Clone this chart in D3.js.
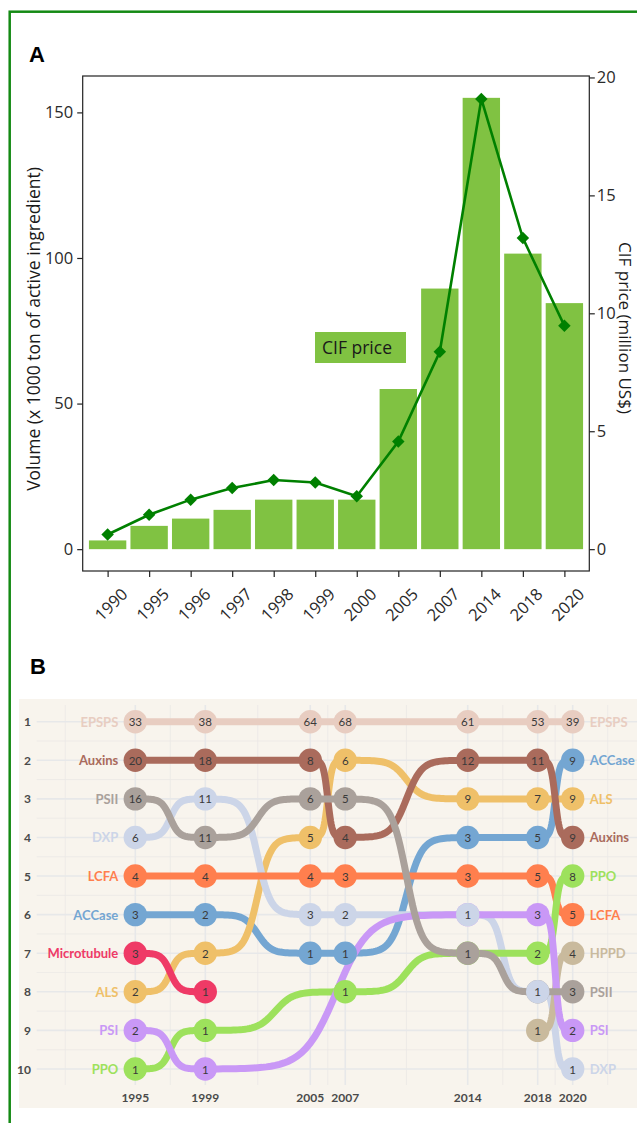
<!DOCTYPE html>
<html>
<head>
<meta charset="utf-8">
<script src="https://cdn.jsdelivr.net/npm/d3@7"></script>
<style>
  body { margin: 0; background: #fff; }
  svg { display: block; }
</style>
</head>
<body>
<svg id="chart" width="637" height="1123"></svg>
<script>
// ---- panel A data ----
const years = ['1990', '1995', '1996', '1997', '1998', '1999', '2000', '2005', '2007', '2014', '2018', '2020'];
const volume = [3, 8, 10.5, 13.5, 17, 17, 17, 55, 89.5, 155, 101.5, 84.5];
const cifPrice = [0.62, 1.46, 2.1, 2.59, 2.93, 2.83, 2.24, 4.56, 8.37, 19.09, 13.19, 9.47];
const volumeTicks = [0, 50, 100, 150];
const priceTicks = [0, 5, 10, 15, 20];

// ---- panel B data (rank / number of active ingredients per mode of action) ----
const bumpYears = [1995, 1999, 2005, 2007, 2014, 2018, 2020];
const rankTicks = [1, 2, 3, 4, 5, 6, 7, 8, 9, 10];
const moaNames = ['ACCase', 'ALS', 'Auxins', 'DXP', 'EPSPS', 'HPPD', 'LCFA', 'Microtubule', 'PPO', 'PSI', 'PSII'];
const moaColors = ['#74a6d2', '#efc069', '#aa6b5c', '#ccd5e8', '#e8cdc1', '#c9ba9d', '#ff7f4e', '#ef3a66', '#9de15c', '#c998f6', '#aaa19b'];
const moaRanks = [
  [6, 6, 7, 7, 4, 4, 2],
  [8, 7, 4, 2, 3, 3, 3],
  [2, 2, 2, 4, 2, 2, 4],
  [4, 3, 6, 6, 6, 8, 10],
  [1, 1, 1, 1, 1, 1, 1],
  [null, null, null, null, null, 9, 7],
  [5, 5, 5, 5, 5, 5, 6],
  [7, 8, null, null, null, null, null],
  [10, 9, null, 8, 7, 7, 5],
  [9, 10, null, null, 6, 6, 9],
  [3, 4, 3, 3, 7, 8, 8]
];
const moaCounts = [
  [3, 2, 1, 1, 3, 5, 9],
  [2, 2, 5, 6, 9, 7, 9],
  [20, 18, 8, 4, 12, 11, 9],
  [6, 11, 3, 2, 1, 1, 1],
  [33, 38, 64, 68, 61, 53, 39],
  [null, null, null, null, null, 1, 4],
  [4, 4, 4, 3, 3, 5, 5],
  [3, 1, null, null, null, null, null],
  [1, 1, null, 1, 1, 2, 8],
  [2, 1, null, null, 1, 3, 2],
  [16, 11, 6, 5, 1, 1, 3]
];
// DXP points sit on top of the tied ones
const pointOrder = ['ACCase', 'ALS', 'Auxins', 'EPSPS', 'HPPD', 'LCFA', 'Microtubule', 'PPO', 'PSI', 'PSII', 'DXP'];

const svg = d3.select('#chart');
const barGreen = '#80c242';
const lineGreen = '#008000';
const fontA = '"Open Sans", Roboto, sans-serif';
const fontB = 'Lato, "Noto Sans", sans-serif';

// outer green frame
svg.append('rect')
  .attr('x', 9.7).attr('y', 11.7)
  .attr('width', 700).attr('height', 1200)
  .attr('fill', 'none').attr('stroke', '#148a14').attr('stroke-width', 2.5);

// ================= PANEL A =================
const pa = { left: 82.7, right: 589.3, top: 76, bottom: 571 };

const x = d3.scalePoint().domain(years).range([pa.left, pa.right]).padding(0.6);
const yVol = d3.scaleLinear().domain([-7.5, 162.5]).range([pa.bottom, pa.top]);
const yPrice = d3.scaleLinear().domain([-7.5 / 8.1, 162.5 / 8.1]).range([pa.bottom, pa.top]);
const barW = x.step() * 0.9;

svg.append('text').attr('x', 29).attr('y', 62)
  .attr('font-family', 'Liberation Sans, Arial, sans-serif').attr('font-weight', 'bold')
  .attr('font-size', 22).text('A');

svg.append('g').selectAll('rect')
  .data(years)
  .join('rect')
  .attr('x', d => x(d) - barW / 2)
  .attr('y', (d, i) => yVol(volume[i]))
  .attr('width', barW)
  .attr('height', (d, i) => yVol(0) - yVol(volume[i]))
  .attr('fill', barGreen);

const priceLine = d3.line()
  .x(d => x(d))
  .y((d, i) => yPrice(cifPrice[i]));

svg.append('path')
  .datum(years)
  .attr('d', priceLine)
  .attr('fill', 'none')
  .attr('stroke', lineGreen)
  .attr('stroke-width', 2.6);

const diamond = d3.symbol().type(d3.symbolSquare).size(78);
svg.append('g').selectAll('path')
  .data(years)
  .join('path')
  .attr('d', diamond)
  .attr('transform', (d, i) => `translate(${x(d)},${yPrice(cifPrice[i])}) rotate(45)`)
  .attr('fill', lineGreen);

// legend label
svg.append('rect').attr('x', 315).attr('y', 332).attr('width', 91).attr('height', 31).attr('fill', barGreen);
svg.append('text').attr('x', 322).attr('y', 354)
  .attr('font-family', fontA).attr('font-size', 17.5).attr('fill', '#1a1a1a').text('CIF price');

// panel frame
svg.append('rect')
  .attr('x', pa.left).attr('y', pa.top)
  .attr('width', pa.right - pa.left).attr('height', pa.bottom - pa.top)
  .attr('fill', 'none').attr('stroke', '#222').attr('stroke-width', 1.2);

function styleAxis(g) {
  g.select('.domain').remove();
  g.selectAll('line').attr('stroke', '#222').attr('stroke-width', 1.2);
  g.selectAll('text').attr('font-family', fontA)
    .attr('font-size', 16.5).attr('fill', '#2a2a2a');
}

svg.append('g')
  .attr('transform', `translate(${pa.left},0)`)
  .call(d3.axisLeft(yVol).tickValues(volumeTicks).tickSize(5.5).tickPadding(4))
  .call(styleAxis);

svg.append('g')
  .attr('transform', `translate(${pa.right},0)`)
  .call(d3.axisRight(yPrice).tickValues(priceTicks).tickSize(5.5).tickPadding(2))
  .call(styleAxis);

svg.append('g')
  .attr('transform', `translate(0,${pa.bottom})`)
  .call(d3.axisBottom(x).tickSize(6))
  .call(styleAxis)
  .selectAll('text')
  .attr('y', null).attr('dy', null)
  .attr('text-anchor', 'middle')
  .attr('dominant-baseline', 'central')
  .attr('transform', 'translate(2.5,33) rotate(-45)');

svg.append('text')
  .attr('transform', 'translate(33,329) rotate(-90)')
  .attr('text-anchor', 'middle').attr('dominant-baseline', 'central')
  .attr('font-family', fontA).attr('font-size', 17.5).attr('fill', '#1a1a1a')
  .text('Volume (x 1000 ton of active ingredient)');

svg.append('text')
  .attr('transform', 'translate(625,328) rotate(90)')
  .attr('text-anchor', 'middle').attr('dominant-baseline', 'central')
  .attr('font-family', fontA).attr('font-size', 17).attr('fill', '#1a1a1a')
  .text('CIF price (million US$)');

// ================= PANEL B =================
svg.append('text').attr('x', 30).attr('y', 674)
  .attr('font-family', 'Liberation Sans, Arial, sans-serif').attr('font-weight', 'bold')
  .attr('font-size', 22).text('B');

svg.append('rect').attr('x', 19).attr('y', 699).attr('width', 620).attr('height', 409).attr('fill', '#f8f4ed');

const xB = d3.scaleLinear().domain([1995, 2020]).range([135.3, 572.7]);
const yB = d3.scaleLinear().domain([1, 10]).range([721.7, 1069]);

// grid: major at the breaks, minor in between
const minorYears = [1991, 1997, 2002, 2006, 2010.5, 2016, 2019, 2022];
const grid = svg.append('g');
grid.selectAll('.hmin')
  .data(d3.range(1.5, 10, 1))
  .join('line')
  .attr('x1', 36.7).attr('x2', 637)
  .attr('y1', d => yB(d)).attr('y2', d => yB(d))
  .attr('stroke', '#ebe9e6').attr('stroke-width', 0.8);
grid.selectAll('.vmin')
  .data(minorYears)
  .join('line')
  .attr('x1', d => xB(d)).attr('x2', d => xB(d))
  .attr('y1', 705).attr('y2', 1085)
  .attr('stroke', '#ebe9e6').attr('stroke-width', 0.8);
grid.selectAll('.hmaj')
  .data(rankTicks)
  .join('line')
  .attr('x1', 36.7).attr('x2', 637)
  .attr('y1', d => yB(d)).attr('y2', d => yB(d))
  .attr('stroke', '#e7e8e9').attr('stroke-width', 1.6);
grid.selectAll('.vmaj')
  .data(bumpYears)
  .join('line')
  .attr('x1', d => xB(d)).attr('x2', d => xB(d))
  .attr('y1', 705).attr('y2', 1085)
  .attr('stroke', '#e7e8e9').attr('stroke-width', 1.6);

// axis labels
svg.append('g').selectAll('text')
  .data(rankTicks)
  .join('text')
  .attr('x', 31).attr('y', d => yB(d))
  .attr('text-anchor', 'end').attr('dominant-baseline', 'central')
  .attr('font-family', fontB).attr('font-weight', 'bold').attr('font-size', 12).attr('fill', '#4a4a4a')
  .text(d => d);

svg.append('g').selectAll('text')
  .data(bumpYears)
  .join('text')
  .attr('x', d => xB(d)).attr('y', 1097)
  .attr('text-anchor', 'middle').attr('dominant-baseline', 'central')
  .attr('font-family', fontB).attr('font-weight', 'bold').attr('font-size', 12).attr('fill', '#4a4a4a')
  .text(d => d);

// sigmoid link between successive points (like ggbump, smooth = 8)
function curveSigmoid(context) {
  let x0, y0, started;
  return {
    areaStart() {}, areaEnd() {},
    lineStart() { started = false; },
    lineEnd() {},
    point(px, py) {
      px = +px; py = +py;
      if (!started) { context.moveTo(px, py); started = true; }
      else {
        const n = 60;
        for (let k = 1; k <= n; k++) {
          const s = 1 / (1 + Math.exp(-(-8 + 16 * k / n)));
          context.lineTo(x0 + (px - x0) * k / n, y0 + (py - y0) * s);
        }
      }
      x0 = px; y0 = py;
    }
  };
}

function seriesPoints(i) {
  return bumpYears
    .map((yr, j) => ({ year: yr, rank: moaRanks[i][j], count: moaCounts[i][j] }))
    .filter(d => d.rank != null);
}

const bump = d3.line().x(d => xB(d.year)).y(d => yB(d.rank)).curve(curveSigmoid);

svg.append('g').selectAll('path')
  .data(moaNames)
  .join('path')
  .attr('d', (d, i) => bump(seriesPoints(i)))
  .attr('fill', 'none')
  .attr('stroke', (d, i) => moaColors[i])
  .attr('stroke-width', 7);

const nodes = svg.append('g');
pointOrder.forEach(name => {
  const i = moaNames.indexOf(name);
  const g = nodes.append('g');
  const pts = seriesPoints(i);
  g.selectAll('circle')
    .data(pts)
    .join('circle')
    .attr('cx', d => xB(d.year)).attr('cy', d => yB(d.rank))
    .attr('r', 11.7)
    .attr('fill', moaColors[i]);
  g.selectAll('text')
    .data(pts)
    .join('text')
    .attr('x', d => xB(d.year)).attr('y', d => yB(d.rank))
    .attr('text-anchor', 'middle').attr('dominant-baseline', 'central')
    .attr('font-family', fontB).attr('font-size', 11.5).attr('fill', '#3a3a3a')
    .text(d => d.count);
});

// series names at both ends
const first = bumpYears[0];
const last = bumpYears[bumpYears.length - 1];
svg.append('g').selectAll('text')
  .data(moaNames.filter((d, i) => moaRanks[i][0] != null))
  .join('text')
  .attr('x', xB(first) - 17).attr('y', d => yB(moaRanks[moaNames.indexOf(d)][0]))
  .attr('text-anchor', 'end').attr('dominant-baseline', 'central')
  .attr('font-family', fontB).attr('font-weight', 'bold').attr('font-size', 13)
  .attr('fill', d => moaColors[moaNames.indexOf(d)])
  .text(d => d);

svg.append('g').selectAll('text')
  .data(moaNames.filter((d, i) => moaRanks[i][bumpYears.length - 1] != null))
  .join('text')
  .attr('x', xB(last) + 17).attr('y', d => yB(moaRanks[moaNames.indexOf(d)][bumpYears.length - 1]))
  .attr('text-anchor', 'start').attr('dominant-baseline', 'central')
  .attr('font-family', fontB).attr('font-weight', 'bold').attr('font-size', 13)
  .attr('fill', d => moaColors[moaNames.indexOf(d)])
  .text(d => d);
</script>
</body>
</html>
